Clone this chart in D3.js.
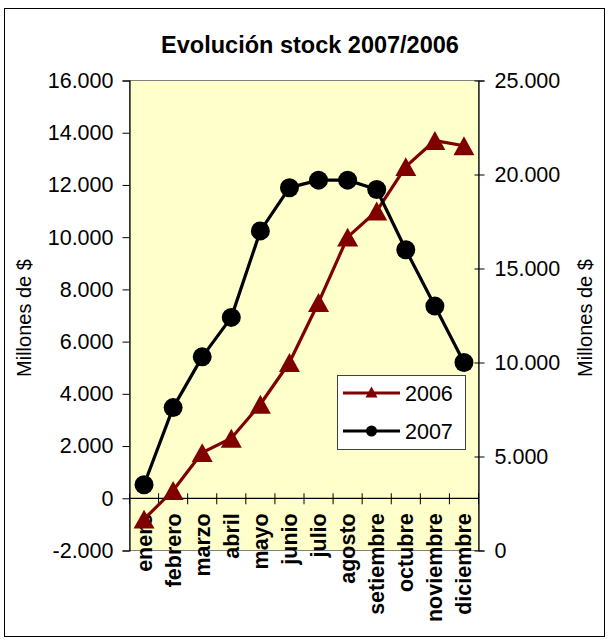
<!DOCTYPE html>
<html>
<head>
<meta charset="utf-8">
<script src="https://cdn.jsdelivr.net/npm/d3@7"></script>
<style>
  html, body { margin: 0; padding: 0; background: #fff; }
  svg { display: block; font-family: "Liberation Sans", Arial, sans-serif; }
</style>
</head>
<body>
<svg id="chart" width="609" height="642"></svg>
<script>
const months = ["enero", "febrero", "marzo", "abril", "mayo", "junio", "julio", "agosto", "setiembre", "octubre", "noviembre", "diciembre"];
const values2006 = [-800, 300, 1750, 2300, 3600, 5200, 7500, 10000, 11000, 12700, 13700, 13500];
const values2007 = [3500, 7600, 10300, 12400, 17000, 19300, 19700, 19700, 19200, 16000, 13000, 10000];
const leftTicks = [-2000, 0, 2000, 4000, 6000, 8000, 10000, 12000, 14000, 16000];
const rightTicks = [0, 5000, 10000, 15000, 20000, 25000];
const seriesNames = ["2006", "2007"];
const titleText = "Evolución stock 2007/2006";
const axisTitle = "Millones de $";

const svg = d3.select("#chart");
const loc = d3.formatLocale({decimal: ",", thousands: ".", grouping: [3], currency: ["$", ""], minus: "-"});
const fmt = loc.format(",d");

const plot = {left: 129.5, right: 478.5, top: 80.5, bottom: 550.5};

const x = d3.scaleBand().domain(months).range([plot.left, plot.right]).paddingInner(0).paddingOuter(0);
const yL = d3.scaleLinear().domain([-2000, 16000]).range([plot.bottom, plot.top]);
const yR = d3.scaleLinear().domain([0, 25000]).range([plot.bottom, plot.top]);

// chart area
svg.append("rect").attr("x", 4.5).attr("y", 8.5).attr("width", 600).attr("height", 628)
  .attr("fill", "#fff").attr("stroke", "#000").attr("stroke-width", 1);

// title
svg.append("text").attr("x", 310).attr("y", 53).attr("text-anchor", "middle")
  .attr("font-size", 23.5).attr("font-weight", "bold").text(titleText);

// plot area
svg.append("rect").attr("x", plot.left).attr("y", plot.top)
  .attr("width", plot.right - plot.left).attr("height", plot.bottom - plot.top)
  .attr("fill", "#FFFFCC").attr("stroke", "#808080").attr("stroke-width", 1);

// left axis
const gL = svg.append("g").attr("transform", `translate(${plot.left},0)`)
  .call(d3.axisLeft(yL).tickValues(leftTicks).tickFormat(fmt).tickSize(7).tickPadding(9));
gL.select(".domain").attr("stroke", "#000").attr("stroke-width", 1.2);
gL.selectAll(".tick line").attr("stroke", "#000");
gL.selectAll(".tick text").attr("font-size", 21.5).attr("font-family", "Liberation Sans, Arial, sans-serif").attr("fill", "#000");

// right axis
const gR = svg.append("g").attr("transform", `translate(${plot.right},0)`)
  .call(d3.axisRight(yR).tickValues(rightTicks).tickFormat(fmt).tickSize(6).tickPadding(10));
gR.select(".domain").attr("stroke", "#000").attr("stroke-width", 1.2);
gR.selectAll(".tick line").attr("stroke", "#000").attr("x1", -4);
gR.selectAll(".tick text").attr("font-size", 21.5).attr("font-family", "Liberation Sans, Arial, sans-serif").attr("fill", "#000");

// category axis at y=0 of left axis
const y0 = yL(0);
svg.append("line").attr("x1", plot.left).attr("x2", plot.right).attr("y1", y0).attr("y2", y0)
  .attr("stroke", "#000").attr("stroke-width", 1.2);
const bounds = months.map(m => x(m)).concat([x(months[months.length - 1]) + x.bandwidth()]);
svg.append("g").selectAll("line").data(bounds).join("line")
  .attr("x1", d => d).attr("x2", d => d).attr("y1", y0 - 5).attr("y2", y0 + 6)
  .attr("stroke", "#000").attr("stroke-width", 1);
svg.append("g").selectAll("text").data(months).join("text")
  .attr("transform", d => `translate(${x(d) + x.bandwidth() / 2},${y0 + 15}) rotate(-90)`)
  .attr("text-anchor", "end").attr("dy", "0.35em")
  .attr("font-size", 21.5).attr("font-weight", "bold").text(d => d);

// axis titles
svg.append("text").attr("transform", "translate(31,318) rotate(-90)").attr("text-anchor", "middle")
  .attr("font-size", 20).text(axisTitle);
svg.append("text").attr("transform", "translate(592,318) rotate(-90)").attr("text-anchor", "middle")
  .attr("font-size", 20).text(axisTitle);

// series
const c2006 = "#800000", c2007 = "#000000";
const tri = (s) => { const h = s * 0.9; return `M0,${-h / 2}L${s / 2},${h / 2}L${-s / 2},${h / 2}Z`; };

const line2006 = d3.line().x((d, i) => x(months[i]) + x.bandwidth() / 2).y(d => yL(d));
svg.append("path").datum(values2006).attr("d", line2006).attr("fill", "none")
  .attr("stroke", c2006).attr("stroke-width", 3.2).attr("stroke-linejoin", "round");
svg.append("g").selectAll("path").data(values2006).join("path")
  .attr("transform", (d, i) => `translate(${x(months[i]) + x.bandwidth() / 2},${yL(d)})`)
  .attr("d", tri(21)).attr("fill", c2006);

const line2007 = d3.line().x((d, i) => x(months[i]) + x.bandwidth() / 2).y(d => yR(d));
svg.append("path").datum(values2007).attr("d", line2007).attr("fill", "none")
  .attr("stroke", c2007).attr("stroke-width", 3.2).attr("stroke-linejoin", "round");
svg.append("g").selectAll("circle").data(values2007).join("circle")
  .attr("cx", (d, i) => x(months[i]) + x.bandwidth() / 2).attr("cy", d => yR(d))
  .attr("r", 9.5).attr("fill", c2007);

// legend
const lg = svg.append("g");
lg.append("rect").attr("x", 337.5).attr("y", 375.5).attr("width", 128).attr("height", 74)
  .attr("fill", "#fff").attr("stroke", "#404040").attr("stroke-width", 1);
const legendRows = [{name: seriesNames[0], color: c2006, y: 393, m: "tri"}, {name: seriesNames[1], color: c2007, y: 431, m: "circ"}];
legendRows.forEach(r => {
  lg.append("line").attr("x1", 343).attr("x2", 400).attr("y1", r.y).attr("y2", r.y)
    .attr("stroke", r.color).attr("stroke-width", 3.2);
  if (r.m === "tri") lg.append("path").attr("transform", `translate(371.5,${r.y - 1})`).attr("d", tri(12)).attr("fill", r.color);
  else lg.append("circle").attr("cx", 371.5).attr("cy", r.y).attr("r", 5.5).attr("fill", r.color);
  lg.append("text").attr("x", 405).attr("y", r.y).attr("dy", "0.35em").attr("font-size", 21.5).text(r.name);
});
</script>
</body>
</html>
